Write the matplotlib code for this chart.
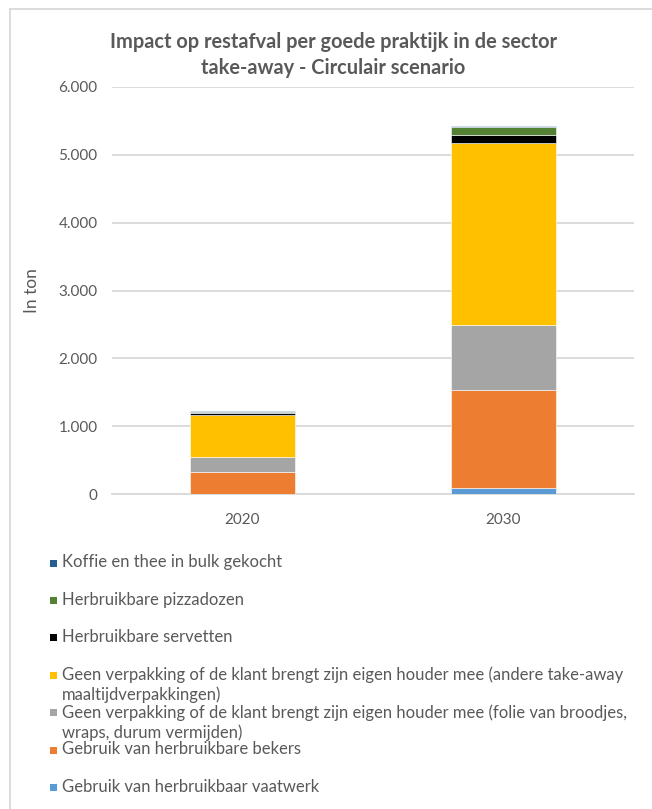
import matplotlib
matplotlib.use("Agg")
import matplotlib.pyplot as plt
from matplotlib.patches import Rectangle
from matplotlib.lines import Line2D
from matplotlib.ticker import FuncFormatter

years = ["2020", "2030"]
series_names = [
    "Gebruik van herbruikbaar vaatwerk",
    "Gebruik van herbruikbare bekers",
    "Geen verpakking of de klant brengt zijn eigen houder mee (folie van broodjes,\nwraps, durum vermijden)",
    "Geen verpakking of de klant brengt zijn eigen houder mee (andere take-away\nmaaltijdverpakkingen)",
    "Herbruikbare servetten",
    "Herbruikbare pizzadozen",
    "Koffie en thee in bulk gekocht",
]
colors = ["#5B9BD5", "#ED7D31", "#A5A5A5", "#FFC000", "#000000", "#548235", "#255E91"]
vaatwerk = [0, 84]
bekers = [328, 1445]
folie = [216, 967]
andere = [618, 2685]
servetten = [25, 109]
pizzadozen = [20, 122]
koffie = [15, 19]
values = [vaatwerk, bekers, folie, andere, servetten, pizzadozen, koffie]
yticks = [0, 1000, 2000, 3000, 4000, 5000, 6000]

W, H = 652, 809
fig = plt.figure(figsize=(W / 100, H / 100), dpi=100)
plt.rcParams["font.family"] = ["Lato", "DejaVu Sans"]
txt = "#595959"

ax = fig.add_axes([112 / W, 1 - 494 / H, (634 - 112) / W, (494 - 87) / H])
x = list(range(len(years)))
bottom = [0.0] * len(years)
for vals, col, name in zip(values, colors, series_names):
    ax.bar(x, vals, width=0.4, bottom=bottom, color=col, edgecolor="white", linewidth=0.4, zorder=3)
    bottom = [b + v for b, v in zip(bottom, vals)]

ax.set_xlim(-0.5, 1.5)
ax.set_ylim(0, 6000)
ax.set_yticks(yticks)
ax.yaxis.set_major_formatter(FuncFormatter(lambda v, p: f"{int(v):,}".replace(",", ".")))
ax.set_xticks(x)
ax.set_xticklabels(years)
ax.grid(axis="y", color="#D9D9D9", linewidth=1.3, zorder=0)
for s in ["top", "right", "left"]:
    ax.spines[s].set_visible(False)
ax.spines["bottom"].set_color("#D9D9D9")
ax.spines["bottom"].set_linewidth(1.3)
ax.tick_params(axis="both", length=0, colors=txt, labelsize=11)
ax.tick_params(axis="y", pad=10.5)
ax.tick_params(axis="x", pad=14)
ax.set_ylabel("In ton", color=txt, fontsize=12.5)
ax.yaxis.set_label_coords((40 - 112) / (634 - 112), 0.5)

fig.text(333 / W, 1 - 55 / H, "Impact op restafval per goede praktijk in de sector\ntake-away - Circulair scenario",
         ha="center", va="center", fontsize=14.4, fontweight="bold", color=txt, linespacing=1.35)

# frame border
fig.add_artist(Line2D([9.5 / W, 9.5 / W], [0, 1 - 9 / H], transform=fig.transFigure, color="#D9D9D9", lw=1.3))
fig.add_artist(Line2D([9.5 / W, 1], [1 - 9 / H, 1 - 9 / H], transform=fig.transFigure, color="#D9D9D9", lw=1.3))

# legend (reverse order)
for i, (name, col) in enumerate(zip(series_names[::-1], colors[::-1])):
    yc = 563 + i * 37.4
    fig.add_artist(Rectangle((50 / W, 1 - (yc + 3.5) / H), 7 / W, 7 / H, transform=fig.transFigure,
                             facecolor=col, edgecolor="none"))
    fig.text(62 / W, 1 - (yc - 8.5) / H, name, ha="left", va="top", fontsize=12, color=txt, linespacing=1.25)

fig.savefig("out.png", dpi=100)
